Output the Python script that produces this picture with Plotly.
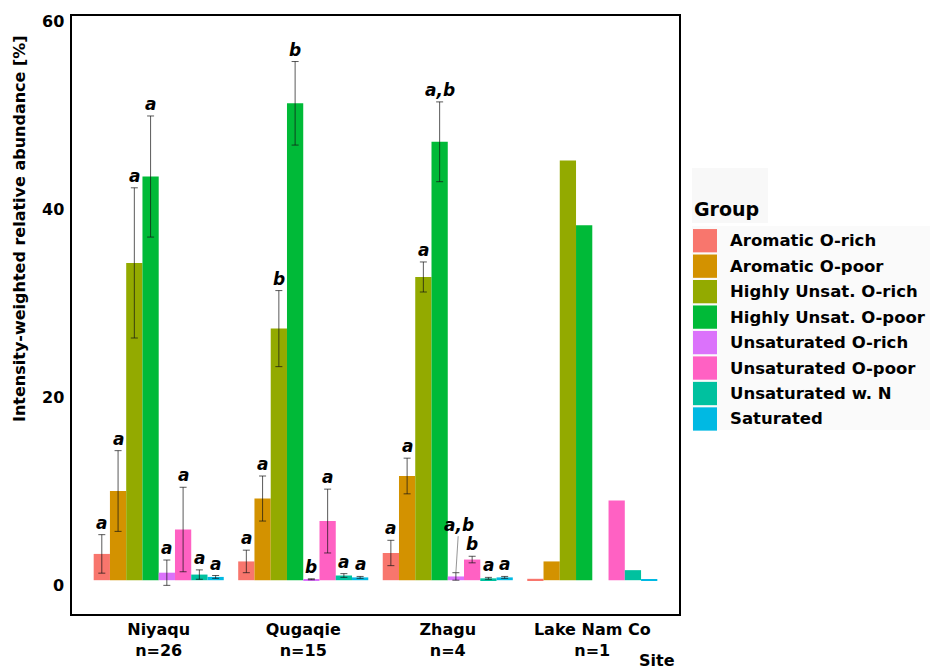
import plotly.graph_objects as go

# ---- data -------------------------------------------------------------
SITES = ["Niyaqu", "Qugaqie", "Zhagu", "Lake Nam Co"]
SAMPLE_N = [26, 15, 4, 1]
GROUPS = [
    "Aromatic O-rich", "Aromatic O-poor", "Highly Unsat. O-rich",
    "Highly Unsat. O-poor", "Unsaturated O-rich", "Unsaturated O-poor",
    "Unsaturated w. N", "Saturated",
]

# mean intensity-weighted relative abundance (%) per group, one list per site
NIYAQU_MEAN = [2.8, 9.5, 33.8, 43.0, 0.8, 5.4, 0.6, 0.35]
QUGAQIE_MEAN = [2.0, 8.7, 26.8, 50.8, 0.1, 6.3, 0.5, 0.3]
ZHAGU_MEAN = [2.9, 11.1, 32.3, 46.7, 0.4, 2.2, 0.2, 0.3]
NAMCO_MEAN = [0.15, 2.0, 44.7, 37.8, None, 8.5, 1.07, 0.1]

# standard deviations (single sample at Lake Nam Co -> none)
NIYAQU_SD = [2.05, 4.3, 8.0, 6.45, 1.35, 4.5, 0.5, 0.15]
QUGAQIE_SD = [1.2, 2.4, 4.05, 4.45, 0.05, 3.4, 0.2, 0.1]
ZHAGU_SD = [1.35, 1.9, 1.6, 4.25, 0.4, 0.35, 0.1, 0.1]
NAMCO_SD = [None, None, None, None, None, None, None, None]

# significance letters
NIYAQU_LETTERS = ["a", "a", "a", "a", "a", "a", "a", "a"]
QUGAQIE_LETTERS = ["a", "a", "b", "b", "b", "a", "a", "a"]
ZHAGU_LETTERS = ["a", "a", "a", "a,b", "a,b", "b", "a", "a"]
NAMCO_LETTERS = [None, None, None, None, None, None, None, None]

Y_TICKS = [0, 20, 40, 60]

# ---- styling ----------------------------------------------------------
COLORS = ["#F8766D", "#D39200", "#93AA00", "#00BA38",
          "#DB72FB", "#FF61C3", "#00C19F", "#00B9E3"]
FONT = "DejaVu Sans"
W, H = 930, 671
PLOT_L, PLOT_R, PLOT_T, PLOT_B = 72, 679, 16, 614
BARGAP = 0.1
X_RANGE = [-0.6, 3.6]
Y_RANGE = [-3.6, 60.1]
# the label that is pushed away from its bar, with its offset in px
REPELLED = {(2, 4): (3, -48)}


def paper_x(px):
    return (px - PLOT_L) / (PLOT_R - PLOT_L)


def paper_y(py):
    return (PLOT_B - py) / (PLOT_B - PLOT_T)


means = [NIYAQU_MEAN, QUGAQIE_MEAN, ZHAGU_MEAN, NAMCO_MEAN]
sds = [NIYAQU_SD, QUGAQIE_SD, ZHAGU_SD, NAMCO_SD]
letters = [NIYAQU_LETTERS, QUGAQIE_LETTERS, ZHAGU_LETTERS, NAMCO_LETTERS]


def error_array(j):
    # sites without a standard deviation come last, so the array simply
    # stops there and plotly draws no error bar for them
    arr = [s[j] for s in sds]
    while arr and arr[-1] is None:
        arr.pop()
    return arr


fig = go.Figure()
for j, grp in enumerate(GROUPS):
    fig.add_trace(go.Bar(
        x=SITES,
        y=[m[j] for m in means],
        name=grp,
        marker=dict(color=COLORS[j], line=dict(width=0)),
        error_y=dict(type="data", array=error_array(j), visible=True,
                     color="rgba(20,20,20,0.7)", thickness=1, width=3.5),
        showlegend=False,
    ))

annotations = []
slot = (1 - BARGAP) / len(GROUPS)
for i in range(len(SITES)):
    for j in range(len(GROUPS)):
        lab = letters[i][j]
        if lab is None or means[i][j] is None:
            continue
        xpos = i + (j - (len(GROUPS) - 1) / 2) * slot
        ytop = means[i][j] + (sds[i][j] or 0)
        txt = "<b><i>%s</i></b>" % lab
        if (i, j) in REPELLED:
            ax, ay = REPELLED[(i, j)]
            annotations.append(dict(
                x=xpos, y=ytop, xref="x", yref="y", text=txt,
                showarrow=True, arrowhead=0, arrowwidth=0.8,
                arrowcolor="rgba(90,90,90,0.8)", ax=ax, ay=ay, standoff=0,
                font=dict(family=FONT, size=17, color="black"),
            ))
        else:
            annotations.append(dict(
                x=xpos, y=ytop, xref="x", yref="y", text=txt,
                showarrow=False, yanchor="bottom", xanchor="center",
                font=dict(family=FONT, size=17, color="black"),
            ))

# y tick labels
for t in Y_TICKS:
    annotations.append(dict(
        x=0, y=t, xref="paper", yref="y", text="<b>%d</b>" % t,
        showarrow=False, xanchor="right", yanchor="middle",
        xshift=-6, yshift=-5, font=dict(family=FONT, size=16, color="black"),
    ))

# axis titles
annotations.append(dict(
    x=paper_x(19), y=paper_y(229), xref="paper", yref="paper",
    text="<b>Intensity-weighted relative abundance [%]</b>", textangle=-90,
    showarrow=False, xanchor="center", yanchor="middle",
    font=dict(family=FONT, size=16, color="black"),
))
annotations.append(dict(
    x=paper_x(677), y=paper_y(660), xref="paper", yref="paper",
    text="<b>Site</b>", showarrow=False, xanchor="right", yanchor="middle",
    font=dict(family=FONT, size=16, color="black"),
))

# legend drawn as keys + labels
shapes = []
LEG_X0, LEG_KEY_W, LEG_TOP, LEG_STEP, LEG_KEY_H = 693, 24, 240.7, 25.47, 23.3
shapes.append(dict(type="rect", xref="paper", yref="paper",
                   x0=paper_x(692), x1=paper_x(768), y0=paper_y(223), y1=paper_y(168),
                   fillcolor="#f8f8f8", line=dict(width=0), layer="below"))
shapes.append(dict(type="rect", xref="paper", yref="paper",
                   x0=paper_x(692), x1=paper_x(930), y0=paper_y(430), y1=paper_y(226),
                   fillcolor="#fafafa", line=dict(width=0), layer="below"))
annotations.append(dict(
    x=paper_x(692), y=paper_y(209), xref="paper", yref="paper",
    text="<b>Group</b>", showarrow=False, xanchor="left", yanchor="middle",
    font=dict(family=FONT, size=19, color="black"),
))
for j, grp in enumerate(GROUPS):
    cy = LEG_TOP + j * LEG_STEP
    shapes.append(dict(type="rect", xref="paper", yref="paper",
                       x0=paper_x(LEG_X0), x1=paper_x(LEG_X0 + LEG_KEY_W),
                       y0=paper_y(cy + LEG_KEY_H / 2), y1=paper_y(cy - LEG_KEY_H / 2),
                       fillcolor=COLORS[j], line=dict(width=0)))
    annotations.append(dict(
        x=paper_x(728), y=paper_y(cy), xref="paper", yref="paper",
        text="<b>%s</b>" % grp, showarrow=False, xanchor="left", yanchor="middle",
        font=dict(family=FONT, size=16.5, color="black"),
    ))

fig.update_layout(
    width=W, height=H,
    margin=dict(l=PLOT_L, r=W - PLOT_R, t=PLOT_T, b=H - PLOT_B, pad=0),
    paper_bgcolor="white", plot_bgcolor="white",
    barmode="group", bargap=BARGAP, bargroupgap=0,
    font=dict(family=FONT, size=16, color="black"),
    annotations=annotations, shapes=shapes,
    xaxis=dict(
        type="category", categoryorder="array", categoryarray=SITES,
        range=X_RANGE, tickvals=SITES,
        ticktext=["<b>%s</b><br><b>n=%d</b>" % (s, n) for s, n in zip(SITES, SAMPLE_N)],
        tickfont=dict(family=FONT, size=16, color="black"),
        showline=True, mirror=True, linecolor="black", linewidth=2,
        ticks="", showgrid=False, zeroline=False, automargin=False,
    ),
    yaxis=dict(
        range=Y_RANGE, tickvals=Y_TICKS, showticklabels=False,
        showline=True, mirror=True, linecolor="black", linewidth=2,
        ticks="", showgrid=False, zeroline=False, automargin=False,
    ),
)

fig.write_html("out.html")
